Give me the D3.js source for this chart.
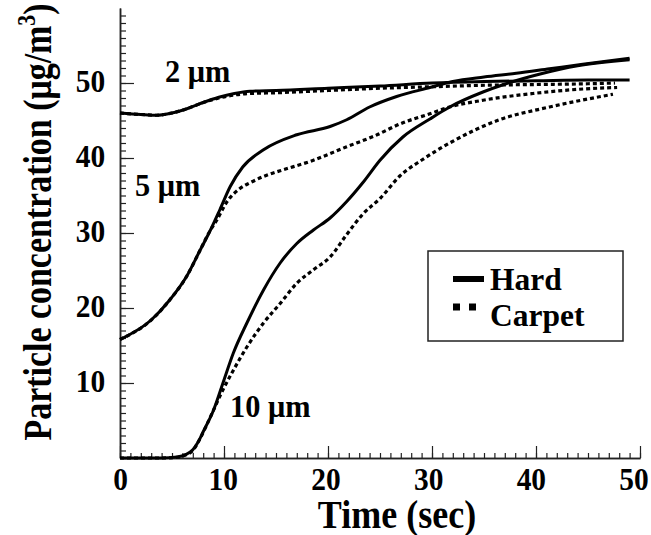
<!DOCTYPE html>
<html>
<head>
<meta charset="utf-8">
<script src="https://cdn.jsdelivr.net/npm/d3@7"></script>
<style>
  html, body { margin: 0; padding: 0; background: #fff; }
  svg { display: block; font-family: "Liberation Serif", "Times New Roman", serif; font-weight: bold; }
</style>
</head>
<body>
<div id="chart"></div>
<script>
/* global d3 */

// time (sec) / concentration (ug/m3)
const t2Hard = [0, 2, 3.5, 5, 6.5, 8, 9.5, 11, 12.5, 15, 20, 25, 30, 35, 40, 45, 49];
const c2Hard = [46.0, 45.8, 45.7, 46.0, 46.6, 47.4, 48.1, 48.6, 48.9, 49.0, 49.3, 49.6, 50.0, 50.2, 50.3, 50.4, 50.4];
const t2Carpet = [0, 2, 3.5, 5, 6.5, 8, 9.5, 11, 12.5, 15, 20, 25, 30, 35, 40, 45, 47.6];
const c2Carpet = [46.0, 45.8, 45.7, 46.0, 46.6, 47.4, 48.0, 48.4, 48.6, 48.7, 49.0, 49.3, 49.5, 49.7, 49.8, 49.9, 50.0];

const t5Hard = [0, 3, 4.8, 6.4, 7.7, 8.7, 9.6, 10.6, 11.8, 13.8, 17, 20.2, 21.8, 24, 26.6, 29.8, 32, 35, 38.1, 41.3, 44.5, 49];
const c5Hard = [15.8, 18.4, 21.1, 24.2, 27.7, 30.4, 33.1, 36.2, 38.8, 41.1, 43.1, 44.2, 45.1, 46.8, 48.2, 49.4, 50.2, 50.8, 51.3, 51.9, 52.5, 53.3];
const t5Carpet = [0, 3, 4.8, 6.4, 7.7, 8.7, 9.3, 10.3, 11.5, 12.5, 14.1, 15.4, 18.6, 21.8, 24.4, 27.2, 29.8, 31.7, 34.9, 39.7, 44.5, 47.8];
const c5Carpet = [15.8, 18.4, 21.1, 24.2, 27.7, 30.4, 31.7, 34.2, 35.9, 36.7, 37.7, 38.3, 39.7, 41.5, 42.9, 44.7, 45.9, 46.8, 47.7, 48.6, 49.2, 49.4];

const t10Hard = [0, 4, 5.5, 6.3, 7, 7.5, 8, 9, 9.9, 10.9, 12.2, 13.8, 15.4, 17, 18.6, 20.2, 21.8, 23.4, 25, 27.2, 29.8, 31.7, 34.9, 36.9, 40.4, 44, 49];
const c10Hard = [0, 0, 0.15, 0.45, 1.1, 2.1, 3.5, 6.4, 10, 14, 18, 22.4, 26, 28.6, 30.4, 32, 34.2, 36.8, 39.7, 42.8, 45.2, 46.8, 48.8, 49.8, 51.2, 52.3, 53.1];
const t10Carpet = [0, 4, 5.5, 6.3, 7, 7.7, 8.8, 9.9, 10.9, 12.2, 13.8, 15.4, 17, 18.6, 20.2, 21.8, 23.4, 25, 26.9, 29.1, 31.7, 36.5, 41.3, 47.4];
const c10Carpet = [0, 0, 0.1, 0.4, 1.0, 2.6, 5.8, 9.1, 11.7, 14.8, 18, 20.6, 23.3, 25.1, 26.8, 29.8, 32.6, 34.6, 37.6, 39.8, 42.0, 45.1, 46.8, 48.5];

const xTicks = [0, 10, 20, 30, 40, 50];
const yTicks = [10, 20, 30, 40, 50];
const sizeLabels = ['2 μm', '5 μm', '10 μm'];
const legendLabels = ['Hard', 'Carpet'];

const W = 651, H = 535;
const x = d3.scaleLinear().domain([0, 50]).range([120, 640]);
const y = d3.scaleLinear().domain([0, 60]).range([458, 8]);

const svg = d3.select('#chart').append('svg').attr('width', W).attr('height', H);

// axes: major + minor ticks pointing inward
function styleAxis(g) {
  g.selectAll('path.domain').attr('stroke', '#222').attr('stroke-width', 1.5);
  g.selectAll('.tick line').attr('stroke', '#222').attr('stroke-width', 1.2);
}
svg.append('g').attr('transform', `translate(0,${y(0)})`)
  .call(d3.axisBottom(x).tickValues(d3.range(0, 51, 1)).tickSize(-5).tickSizeOuter(0).tickFormat(''))
  .call(styleAxis);
svg.append('g').attr('transform', `translate(0,${y(0)})`)
  .call(d3.axisBottom(x).tickValues(xTicks).tickSize(-12).tickSizeOuter(0).tickFormat(d3.format('d')))
  .call(styleAxis)
  .call(g => g.selectAll('.tick text')
    .attr('fill', '#000').attr('font-size', 32).attr('font-family', 'Liberation Serif').attr('font-weight', 'bold')
    .attr('y', 32).attr('dy', null).attr('x', d => -d * 0.14)
    .attr('transform', 'scale(0.92,1)'));

svg.append('g').attr('transform', `translate(${x(0)},0)`)
  .call(d3.axisLeft(y).tickValues(d3.range(0, 60, 1)).tickSize(-6).tickSizeOuter(0).tickFormat(''))
  .call(styleAxis);
svg.append('g').attr('transform', `translate(${x(0)},0)`)
  .call(d3.axisLeft(y).tickValues(yTicks).tickSize(-14).tickSizeOuter(0).tickFormat(d3.format('d')))
  .call(styleAxis)
  .call(g => g.selectAll('.tick text')
    .attr('fill', '#000').attr('font-size', 32).attr('font-family', 'Liberation Serif').attr('font-weight', 'bold')
    .attr('x', -16).attr('dy', '0.26em')
    .attr('transform', 'scale(0.92,1)'));

// curves
const line = d3.line().x(d => x(d[0])).y(d => y(d[1])).curve(d3.curveMonotoneX);
const series = [
  [t2Carpet, c2Carpet, true], [t5Carpet, c5Carpet, true], [t10Carpet, c10Carpet, true],
  [t2Hard, c2Hard, false], [t5Hard, c5Hard, false], [t10Hard, c10Hard, false],
];
series.forEach(([ts, cs, dashed]) => {
  svg.append('path')
    .datum(d3.zip(ts, cs))
    .attr('d', line)
    .attr('fill', 'none')
    .attr('stroke', '#000')
    .attr('stroke-width', dashed ? 3.2 : 3)
    .attr('stroke-dasharray', dashed ? '4,3' : null)
    .attr('stroke-linejoin', 'round');
});

// size labels
const labelPos = [[165, 82], [135, 196], [230, 417]];
sizeLabels.forEach((s, i) => {
  svg.append('text').attr('transform', `translate(${labelPos[i][0]},${labelPos[i][1]}) scale(0.95,1)`)
    .attr('font-size', 32).text(s);
});

// legend
const lg = svg.append('g');
lg.append('rect').attr('x', 428).attr('y', 251).attr('width', 195).attr('height', 90)
  .attr('fill', '#fff').attr('stroke', '#222').attr('stroke-width', 1.5);
lg.append('line').attr('x1', 453).attr('x2', 484).attr('y1', 279).attr('y2', 279)
  .attr('stroke', '#000').attr('stroke-width', 6);
lg.append('line').attr('x1', 453).attr('x2', 484).attr('y1', 307).attr('y2', 307)
  .attr('stroke', '#000').attr('stroke-width', 7).attr('stroke-dasharray', '7,9');
legendLabels.forEach((s, i) => {
  lg.append('text').attr('x', 490).attr('y', 290 + i * 36).attr('font-size', 31.5).text(s);
});

// axis titles
svg.append('text').attr('transform', 'translate(397,528) scale(0.9,1)').attr('text-anchor', 'middle')
  .attr('font-size', 40).text('Time (sec)');
const yt = svg.append('text').attr('transform', 'translate(51,222) rotate(-90) scale(0.87,1)')
  .attr('text-anchor', 'middle').attr('font-size', 39);
yt.append('tspan').text('Particle concentration (μg/m');
yt.append('tspan').attr('dy', -16).attr('font-size', 25).text('3');
yt.append('tspan').attr('dy', 16).text(')');
</script>
</body>
</html>
